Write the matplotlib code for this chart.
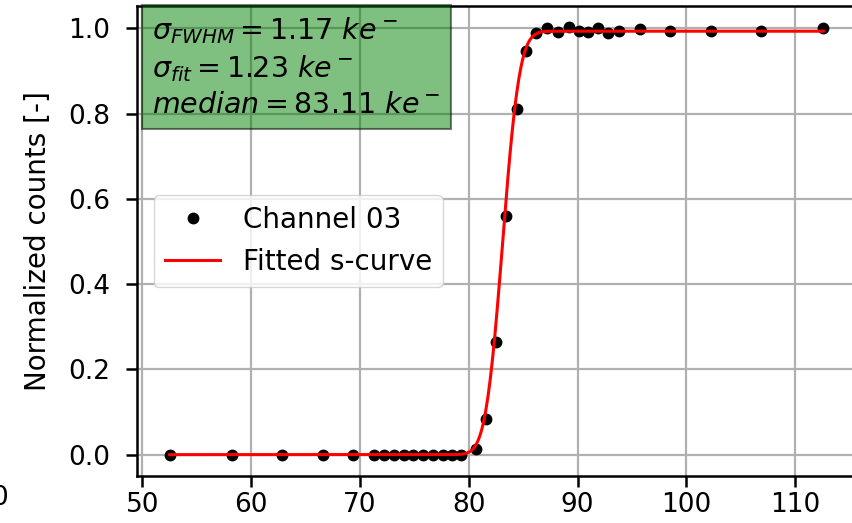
import math
import numpy as np
import matplotlib
matplotlib.use("Agg")
import matplotlib.pyplot as plt

# Threshold scan, channel 03
charge = [52.5, 58.2, 62.8, 66.6, 69.4, 71.3, 72.2, 73.1, 74.0, 74.9, 75.8,
          76.7, 77.6, 78.5, 79.3, 80.7, 81.6, 82.5, 83.4, 84.4, 85.3, 86.2,
          87.2, 88.2, 89.2, 90.1, 91.0, 91.9, 92.8, 93.8, 95.7, 98.5, 102.3,
          106.9, 112.6]
counts = [0.0, 0.0, 0.0, 0.0, 0.0, 0.0, 0.0, 0.0, 0.0, 0.0, 0.0,
          0.0, 0.0, 0.0, 0.0, 0.014, 0.083, 0.264, 0.56, 0.81, 0.946, 0.988,
          1.0, 0.99, 1.002, 0.993, 0.99, 1.0, 0.988, 0.993, 0.998, 0.993, 0.993,
          0.993, 1.0]

# fit results
sigma_fwhm = 1.17
sigma_fit = 1.23
median = 83.11
amplitude = 0.993

plt.rcParams['font.size'] = 19

fig = plt.figure(figsize=(8.53, 5.23), dpi=100)
ax = fig.add_axes([137 / 853, 47 / 523, 719 / 853, 470 / 523])

xs = np.linspace(min(charge), max(charge), 600)
fit = np.array([amplitude * 0.5 * (1 + math.erf((v - median) / (math.sqrt(2) * sigma_fit))) for v in xs])

ax.plot(charge, counts, 'k.', markersize=15, label='Channel 03')
ax.plot(xs, fit, 'r-', linewidth=2.2, label='Fitted s-curve')

ax.set_ylabel('Normalized counts [-]', fontsize=20, labelpad=12)
ax.set_xticks([50, 60, 70, 80, 90, 100, 110])
ax.set_yticks([0.0, 0.2, 0.4, 0.6, 0.8, 1.0])
ax.grid(True, color='#b0b0b0', linewidth=1.6)
for s in ax.spines.values():
    s.set_linewidth(1.8)
ax.tick_params(width=1.8, length=8, labelsize=19)
ax.tick_params(axis='y', pad=11)

txt = (r'$\sigma_{FWHM} = %.2f\ ke^-$' '\n' r'$\sigma_{fit} = %.2f\ ke^-$' '\n'
       r'$median = %.2f\ ke^-$') % (sigma_fwhm, sigma_fit, median)
ax.text(0.021, 0.98, txt, transform=ax.transAxes, va='top', ha='left',
        fontsize=20.5, linespacing=1.3,
        bbox=dict(boxstyle='square,pad=0.35', facecolor='green', alpha=0.5,
                  edgecolor='black', linewidth=1.5))

ax.legend(loc='center left', fontsize=20, borderaxespad=0.6)

fig.text(0.0, 25 / 523, '0', ha='center', va='center', fontsize=19)

fig.savefig('out.png', dpi=100)
